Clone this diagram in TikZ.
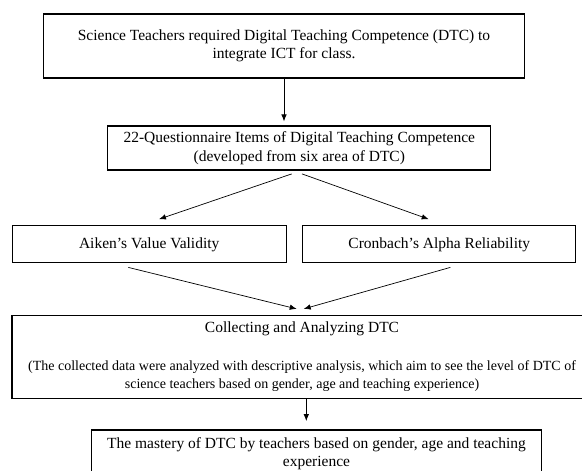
\documentclass[tikz,border=0pt]{standalone}
\usepackage{fontspec}
\setmainfont{Liberation Serif}
\usetikzlibrary{arrows.meta, positioning, calc}

\begin{document}
\begin{tikzpicture}[x=1pt, y=1pt,
	box/.style={draw, line width=1.2pt, align=center, inner sep=0pt, font=\fontsize{15.5}{18.5}\selectfont},
	arr/.style={-{Latex[length=7pt,width=5.5pt]}, line width=0.7pt}]
	\useasboundingbox (0,0) rectangle (582,-471);
	\node[box, minimum width=481pt, minimum height=64pt] (need) at (284,-46) {Science Teachers required Digital Teaching Competence (DTC) to\\ integrate ICT for class.};
	\node[box, minimum width=383pt, minimum height=44pt] (items) at (299.3,-148) {22-Questionnaire Items of Digital Teaching Competence\\ (developed from six area of DTC)};
	\node[box, minimum width=274pt, minimum height=37pt] (aiken) at (149.2,-244.3) {Aiken's Value Validity};
	\node[box, minimum width=273pt, minimum height=37pt] (alpha) at (439.3,-244.3) {Cronbach's Alpha Reliability};
	\node[box, minimum width=580pt, minimum height=83pt] (collect) at (302,-356.7) {Collecting and Analyzing DTC\\[19pt] \fontsize{14}{18}\selectfont (The collected data were analyzed with descriptive analysis, which aim to see the level of DTC of\\ \fontsize{14}{18}\selectfont science teachers based on gender, age and teaching experience)};
	\node[box, minimum width=450pt, minimum height=47pt] (mastery) at (316.5,-453.5) {The mastery of DTC by teachers based on gender, age and teaching\\ experience};
	% connectors
	\draw[arr] (need.south) -- ($(need.south |- items.north)+(0,4)$);
	\draw[arr] ($(items.south)+(-7.6,-3.3)$) -- ($(aiken.north)+(9.8,6)$);
	\draw[arr] ($(items.south)+(2.7,-3.3)$) -- ($(alpha.north)+(-10.6,6)$);
	\draw[arr] ($(aiken.south)+(-20.9,-4)$) -- ($(collect.north)+(-5.3,5.7)$);
	\draw[arr] ($(alpha.south)+(11,-4)$) -- ($(collect.north)+(1.7,5.7)$);
	\draw[arr] ($(collect.south)+(4.3,0)$) -- ($(mastery.north)+(-10.2,8.3)$);
\end{tikzpicture}
\end{document}
